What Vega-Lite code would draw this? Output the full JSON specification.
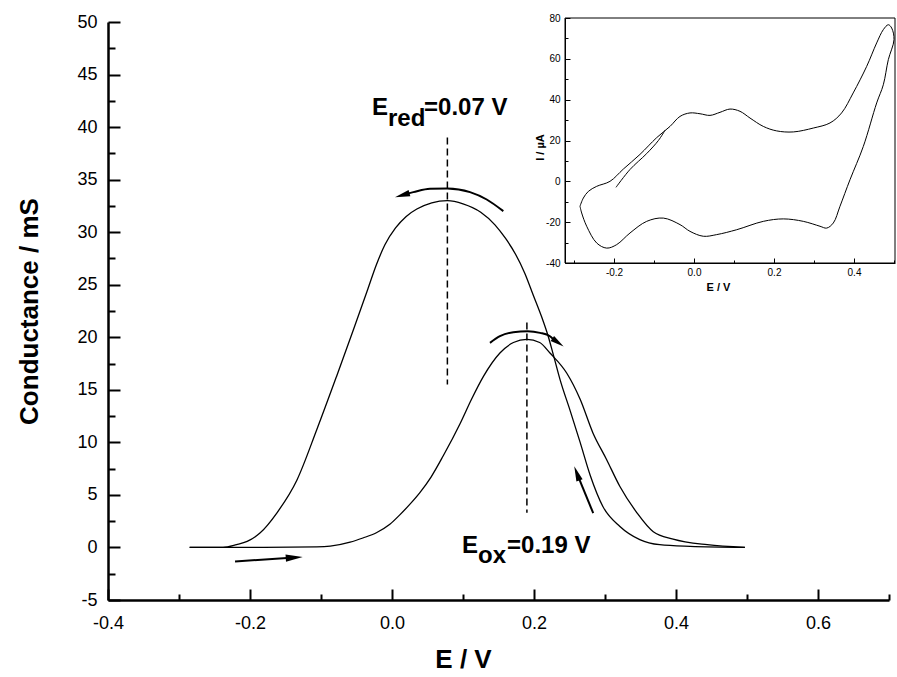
{
  "$schema": "https://vega.github.io/schema/vega-lite/v6.json",
  "width": 781,
  "height": 578,
  "autosize": {"type": "none"},
  "padding": {"left": 108, "top": 22, "right": 8, "bottom": 77},
  "background": "white",
  "config": {
    "view": {"stroke": null},
    "font": "Liberation Sans",
    "axis": {"grid": false, "domainColor": "#000", "tickColor": "#000", "labelColor": "#000", "titleColor": "#000", "labelFont": "Liberation Sans", "titleFont": "Liberation Sans"}
  },
  "datasets": {
    "cond": [
      {"scan": "red", "E": -0.285, "G": 0}, {"scan": "red", "E": -0.238, "G": 0}, {"scan": "red", "E": -0.219, "G": 0.26},
      {"scan": "red", "E": -0.204, "G": 0.57}, {"scan": "red", "E": -0.186, "G": 1.37}, {"scan": "red", "E": -0.162, "G": 3.3},
      {"scan": "red", "E": -0.134, "G": 6.4}, {"scan": "red", "E": -0.106, "G": 11.2}, {"scan": "red", "E": -0.078, "G": 16.3},
      {"scan": "red", "E": -0.055, "G": 20.6}, {"scan": "red", "E": -0.034, "G": 24.6}, {"scan": "red", "E": -0.022, "G": 26.9},
      {"scan": "red", "E": -0.01, "G": 28.8}, {"scan": "red", "E": 0.005, "G": 30.4}, {"scan": "red", "E": 0.02, "G": 31.5},
      {"scan": "red", "E": 0.035, "G": 32.2}, {"scan": "red", "E": 0.056, "G": 32.8}, {"scan": "red", "E": 0.078, "G": 33.0},
      {"scan": "red", "E": 0.1, "G": 32.7}, {"scan": "red", "E": 0.125, "G": 31.9}, {"scan": "red", "E": 0.145, "G": 30.7},
      {"scan": "red", "E": 0.16, "G": 29.4}, {"scan": "red", "E": 0.174, "G": 27.9}, {"scan": "red", "E": 0.187, "G": 26.1},
      {"scan": "red", "E": 0.199, "G": 24.0},
      {"scan": "red", "E": 0.211, "G": 21.9}, {"scan": "red", "E": 0.22, "G": 20.1}, {"scan": "red", "E": 0.227, "G": 18.4},
      {"scan": "red", "E": 0.237, "G": 15.9}, {"scan": "red", "E": 0.251, "G": 13.0}, {"scan": "red", "E": 0.265, "G": 10.0},
      {"scan": "red", "E": 0.279, "G": 6.9}, {"scan": "red", "E": 0.297, "G": 3.9}, {"scan": "red", "E": 0.321, "G": 2.0},
      {"scan": "red", "E": 0.349, "G": 0.75}, {"scan": "red", "E": 0.377, "G": 0.26}, {"scan": "red", "E": 0.42, "G": 0.1},
      {"scan": "red", "E": 0.497, "G": 0},
      {"scan": "ox", "E": -0.285, "G": 0}, {"scan": "ox", "E": -0.2, "G": 0}, {"scan": "ox", "E": -0.106, "G": 0.05},
      {"scan": "ox", "E": -0.087, "G": 0.12}, {"scan": "ox", "E": -0.059, "G": 0.5}, {"scan": "ox", "E": -0.041, "G": 0.9},
      {"scan": "ox", "E": -0.022, "G": 1.4}, {"scan": "ox", "E": -0.003, "G": 2.2}, {"scan": "ox", "E": 0.011, "G": 3.1},
      {"scan": "ox", "E": 0.025, "G": 4.1}, {"scan": "ox", "E": 0.039, "G": 5.2}, {"scan": "ox", "E": 0.055, "G": 6.7},
      {"scan": "ox", "E": 0.072, "G": 8.7}, {"scan": "ox", "E": 0.096, "G": 11.8},
      {"scan": "ox", "E": 0.112, "G": 14.1}, {"scan": "ox", "E": 0.129, "G": 16.3}, {"scan": "ox", "E": 0.152, "G": 18.5},
      {"scan": "ox", "E": 0.171, "G": 19.5}, {"scan": "ox", "E": 0.19, "G": 19.8}, {"scan": "ox", "E": 0.208, "G": 19.5},
      {"scan": "ox", "E": 0.2225, "G": 18.5}, {"scan": "ox", "E": 0.246, "G": 16.6}, {"scan": "ox", "E": 0.265, "G": 14.1},
      {"scan": "ox", "E": 0.283, "G": 10.9}, {"scan": "ox", "E": 0.302, "G": 8.4}, {"scan": "ox", "E": 0.321, "G": 5.8},
      {"scan": "ox", "E": 0.345, "G": 3.3}, {"scan": "ox", "E": 0.368, "G": 1.5}, {"scan": "ox", "E": 0.396, "G": 0.8},
      {"scan": "ox", "E": 0.444, "G": 0.26}, {"scan": "ox", "E": 0.497, "G": 0}
    ],
    "cv": [
      {"seg": "loop", "k": 1, "E": -0.285, "I": -12.2}, {"seg": "loop", "k": 2, "E": -0.2767, "I": -8.2},
      {"seg": "loop", "k": 3, "E": -0.264, "I": -4.9}, {"seg": "loop", "k": 4, "E": -0.2433, "I": -2.45},
      {"seg": "loop", "k": 5, "E": -0.21, "I": 0}, {"seg": "loop", "k": 6, "E": -0.1767, "I": 6.0},
      {"seg": "loop", "k": 7, "E": -0.135, "I": 13.2}, {"seg": "loop", "k": 8, "E": -0.0933, "I": 21.4},
      {"seg": "loop", "k": 9, "E": -0.06, "I": 26.9}, {"seg": "loop", "k": 10, "E": -0.035, "I": 31.8},
      {"seg": "loop", "k": 11, "E": -0.01, "I": 33.5}, {"seg": "loop", "k": 12, "E": 0.015, "I": 33.1},
      {"seg": "loop", "k": 13, "E": 0.04, "I": 32.3}, {"seg": "loop", "k": 14, "E": 0.065, "I": 33.8},
      {"seg": "loop", "k": 15, "E": 0.09, "I": 35.4}, {"seg": "loop", "k": 16, "E": 0.115, "I": 34.3},
      {"seg": "loop", "k": 17, "E": 0.14, "I": 31.0}, {"seg": "loop", "k": 18, "E": 0.1733, "I": 26.9},
      {"seg": "loop", "k": 19, "E": 0.2067, "I": 24.7}, {"seg": "loop", "k": 20, "E": 0.2483, "I": 24.2},
      {"seg": "loop", "k": 21, "E": 0.2983, "I": 26.1}, {"seg": "loop", "k": 22, "E": 0.34, "I": 28.6},
      {"seg": "loop", "k": 23, "E": 0.369, "I": 33.5}, {"seg": "loop", "k": 24, "E": 0.398, "I": 43.3},
      {"seg": "loop", "k": 25, "E": 0.4317, "I": 56.3}, {"seg": "loop", "k": 26, "E": 0.4567, "I": 67.8},
      {"seg": "loop", "k": 27, "E": 0.4733, "I": 74.3}, {"seg": "loop", "k": 28, "E": 0.4858, "I": 76.7},
      {"seg": "loop", "k": 29, "E": 0.4942, "I": 75.1}, {"seg": "loop", "k": 30, "E": 0.5, "I": 69.4},
      {"seg": "loop", "k": 31, "E": 0.4858, "I": 59.6}, {"seg": "loop", "k": 32, "E": 0.4733, "I": 47.3},
      {"seg": "loop", "k": 33, "E": 0.4567, "I": 38.4}, {"seg": "loop", "k": 34, "E": 0.4233, "I": 17.1},
      {"seg": "loop", "k": 35, "E": 0.39, "I": 0.8}, {"seg": "loop", "k": 36, "E": 0.365, "I": -12.2},
      {"seg": "loop", "k": 37, "E": 0.3483, "I": -20.4}, {"seg": "loop", "k": 38, "E": 0.3317, "I": -22.9},
      {"seg": "loop", "k": 39, "E": 0.315, "I": -22.0}, {"seg": "loop", "k": 40, "E": 0.2733, "I": -19.6},
      {"seg": "loop", "k": 41, "E": 0.2233, "I": -18.4}, {"seg": "loop", "k": 42, "E": 0.1733, "I": -19.6},
      {"seg": "loop", "k": 43, "E": 0.1067, "I": -23.7}, {"seg": "loop", "k": 44, "E": 0.0567, "I": -26.1},
      {"seg": "loop", "k": 45, "E": 0.0233, "I": -26.9}, {"seg": "loop", "k": 46, "E": -0.01, "I": -24.5},
      {"seg": "loop", "k": 47, "E": -0.035, "I": -21.2}, {"seg": "loop", "k": 48, "E": -0.0767, "I": -18.0},
      {"seg": "loop", "k": 49, "E": -0.1183, "I": -19.6}, {"seg": "loop", "k": 50, "E": -0.16, "I": -25.3},
      {"seg": "loop", "k": 51, "E": -0.1933, "I": -31.0}, {"seg": "loop", "k": 52, "E": -0.2183, "I": -32.7},
      {"seg": "loop", "k": 53, "E": -0.2433, "I": -30.2}, {"seg": "loop", "k": 54, "E": -0.2683, "I": -22.0},
      {"seg": "loop", "k": 55, "E": -0.2808, "I": -15.5}, {"seg": "loop", "k": 56, "E": -0.285, "I": -12.2},
      {"seg": "start", "k": 1, "E": -0.195, "I": -2.94}, {"seg": "start", "k": 2, "E": -0.16, "I": 5.8},
      {"seg": "start", "k": 3, "E": -0.1183, "I": 13.6}, {"seg": "start", "k": 4, "E": -0.089, "I": 20.0},
      {"seg": "start", "k": 5, "E": -0.0725, "I": 25.0}
    ],
    "arrows": [
      {"id": "a1", "k": 1, "E": 0.1568, "G": 32.0}, {"id": "a1", "k": 2, "E": 0.1334, "G": 33.11},
      {"id": "a1", "k": 3, "E": 0.1099, "G": 33.81}, {"id": "a1", "k": 4, "E": 0.0779, "G": 34.16},
      {"id": "a1", "k": 5, "E": 0.0535, "G": 34.13}, {"id": "a1", "k": 6, "E": 0.03, "G": 33.81},
      {"id": "a1", "k": 7, "E": 0.0206, "G": 33.66},
      {"id": "a2", "k": 1, "E": 0.138, "G": 19.47}, {"id": "a2", "k": 2, "E": 0.152, "G": 20.1},
      {"id": "a2", "k": 3, "E": 0.1708, "G": 20.48}, {"id": "a2", "k": 4, "E": 0.1911, "G": 20.57},
      {"id": "a2", "k": 5, "E": 0.2085, "G": 20.42}, {"id": "a2", "k": 6, "E": 0.2225, "G": 20.1},
      {"id": "a2", "k": 7, "E": 0.2268, "G": 19.83},
      {"id": "a3", "k": 1, "E": 0.2834, "G": 3.27}, {"id": "a3", "k": 2, "E": 0.2604, "G": 7.05},
      {"id": "a4", "k": 1, "E": -0.2211, "G": -1.333}, {"id": "a4", "k": 2, "E": -0.1377, "G": -0.962}
    ],
    "heads": [
      {"id": "a1", "E": 0.0144, "G": 33.52},
      {"id": "a2", "E": 0.2338, "G": 19.5},
      {"id": "a3", "E": 0.2604, "G": 7.05},
      {"id": "a4", "E": -0.1377, "G": -0.962}
    ],
    "peaks": [
      {"id": "red", "E": 0.078, "G1": 39.0, "G2": 15.5},
      {"id": "ox", "E": 0.19, "G1": 21.4, "G2": 3.3}
    ],
    "notes": [
      {"label": "E", "E": -0.0282, "G": 41.11},
      {"label": "red", "E": -0.0056, "G": 40.1},
      {"label": "=0.07 V", "E": 0.0451, "G": 41.11},
      {"label": "E", "E": 0.0986, "G": -0.505},
      {"label": "ox", "E": 0.1211, "G": -1.505},
      {"label": "=0.19 V", "E": 0.162, "G": -0.505}
    ]
  },
  "layer": [
    {
      "layer": [
        {
          "data": {"name": "cond"},
          "mark": {"type": "line", "interpolate": "monotone", "color": "#000", "strokeWidth": 1.3},
          "encoding": {
            "x": {"field": "E", "type": "quantitative",
              "scale": {"domain": [-0.4, 0.7], "nice": false, "zero": false},
              "axis": {"orient": "bottom", "values": [-0.4, -0.2, 0, 0.2, 0.4, 0.6], "format": ".1f",
                "labelExpr": "replace(datum.label, '\u2212', '-')",
                "tickSize": -11, "tickWidth": 2, "domainWidth": 2.5, "labelPadding": 25, "labelFontSize": 18,
                "labelFlush": false, "labelOverlap": false, "title": "E / V", "titleFontSize": 26,
                "titleFontWeight": "bold", "titleX": 355, "titleY": 46}},
            "y": {"field": "G", "type": "quantitative",
              "scale": {"domain": [-5, 50], "nice": false, "zero": false},
              "axis": {"orient": "left", "values": [-5, 0, 5, 10, 15, 20, 25, 30, 35, 40, 45, 50],
                "labelExpr": "replace(datum.label, '\u2212', '-')",
                "tickSize": -12, "tickWidth": 2, "domainWidth": 2.5, "labelPadding": 23, "labelFontSize": 18,
                "labelOverlap": false, "title": "Conductance / mS", "titleFontSize": 26,
                "titleFontWeight": "bold", "titleX": -66, "titleY": 289}},
            "detail": {"field": "scan"}
          }
        },
        {
          "data": {"name": "peaks"},
          "mark": {"type": "rule", "color": "#000", "strokeWidth": 1.5, "strokeDash": [7, 4]},
          "encoding": {
            "x": {"field": "E", "type": "quantitative"},
            "y": {"field": "G1", "type": "quantitative"},
            "y2": {"field": "G2"}
          }
        },
        {
          "data": {"name": "arrows"},
          "mark": {"type": "line", "color": "#000", "strokeWidth": 2, "interpolate": "monotone"},
          "encoding": {
            "x": {"field": "E", "type": "quantitative"},
            "y": {"field": "G", "type": "quantitative"},
            "detail": {"field": "id"},
            "order": {"field": "k"}
          }
        },
        {
          "data": {"name": "heads"},
          "transform": [{"filter": "datum.id == 'a1'"}],
          "mark": {"type": "point", "shape": "M1,0L-1,-0.44L-1,0.44Z", "filled": true, "color": "#000", "opacity": 1, "size": 225, "angle": 164.5},
          "encoding": {"x": {"field": "E", "type": "quantitative"}, "y": {"field": "G", "type": "quantitative"}}
        },
        {
          "data": {"name": "heads"},
          "transform": [{"filter": "datum.id == 'a2'"}],
          "mark": {"type": "point", "shape": "M1,0L-1,-0.44L-1,0.44Z", "filled": true, "color": "#000", "opacity": 1, "size": 190, "angle": 35},
          "encoding": {"x": {"field": "E", "type": "quantitative"}, "y": {"field": "G", "type": "quantitative"}}
        },
        {
          "data": {"name": "heads"},
          "transform": [{"filter": "datum.id == 'a3'"}],
          "mark": {"type": "point", "shape": "M1,0L-1,-0.44L-1,0.44Z", "filled": true, "color": "#000", "opacity": 1, "size": 225, "angle": 249.5},
          "encoding": {"x": {"field": "E", "type": "quantitative"}, "y": {"field": "G", "type": "quantitative"}}
        },
        {
          "data": {"name": "heads"},
          "transform": [{"filter": "datum.id == 'a4'"}],
          "mark": {"type": "point", "shape": "M1,0L-1,-0.44L-1,0.44Z", "filled": true, "color": "#000", "opacity": 1, "size": 289, "angle": 356.2},
          "encoding": {"x": {"field": "E", "type": "quantitative"}, "y": {"field": "G", "type": "quantitative"}}
        },
        {
          "data": {"name": "notes"},
          "mark": {"type": "text", "align": "left", "baseline": "alphabetic", "fontSize": 24, "fontWeight": "bold", "font": "Liberation Sans", "color": "#000"},
          "encoding": {
            "x": {"field": "E", "type": "quantitative"},
            "y": {"field": "G", "type": "quantitative"},
            "text": {"field": "label"}
          }
        }
      ]
    },
    {
      "layer": [
        {
          "data": {"name": "cv"},
          "mark": {"type": "line", "color": "#000", "strokeWidth": 1, "interpolate": "catmull-rom"},
          "encoding": {
            "x": {"field": "E", "type": "quantitative",
              "scale": {"domain": [-0.3225, 0.5025], "range": [457, 787], "nice": false, "zero": false},
              "axis": {"orient": "bottom", "offset": -337, "values": [-0.2, 0, 0.2, 0.4], "format": ".1f",
                "labelExpr": "replace(datum.label, '\u2212', '-')",
                "tickSize": -5, "tickWidth": 1, "domainWidth": 1, "labelPadding": 9, "labelFontSize": 10,
                "labelFlush": false, "labelOverlap": false, "title": "E / V", "titleFontSize": 11,
                "titleFontWeight": "bold", "titleX": 610, "titleY": 18}},
            "y": {"field": "I", "type": "quantitative",
              "scale": {"domain": [-40, 80], "range": [241, -4], "nice": false, "zero": false},
              "axis": {"orient": "left", "offset": -457, "values": [-40, -20, 0, 20, 40, 60, 80],
                "labelExpr": "replace(datum.label, '\u2212', '-')",
                "tickSize": -5, "tickWidth": 1, "domainWidth": 1, "labelPadding": 10, "labelFontSize": 10,
                "labelOverlap": false, "title": "I / µA", "titleFontSize": 11,
                "titleFontWeight": "bold", "titleX": -20, "titleY": 125}},
            "detail": {"field": "seg"},
            "order": {"field": "k"}
          }
        },
        {
          "data": {"values": [{}]},
          "mark": {"type": "rect", "fill": "transparent", "stroke": "#000", "strokeWidth": 1},
          "encoding": {
            "x": {"datum": -0.3225, "type": "quantitative"},
            "x2": {"datum": 0.5025},
            "y": {"datum": -40, "type": "quantitative"},
            "y2": {"datum": 80}
          }
        }
      ]
    },
    {
      "data": {"name": "cond"},
      "mark": {"type": "point", "opacity": 0},
      "encoding": {
        "x": {"field": "E", "type": "quantitative",
          "scale": {"domain": [-0.4, 0.7], "nice": false, "zero": false},
          "axis": {"orient": "bottom", "values": [-0.3, -0.1, 0.1, 0.3, 0.5, 0.7], "labels": false, "domain": false,
            "tickSize": -6, "tickWidth": 2, "title": null}},
        "y": {"field": "G", "type": "quantitative",
          "scale": {"domain": [-5, 50], "nice": false, "zero": false},
          "axis": {"orient": "left", "values": [-2.5, 2.5, 7.5, 12.5, 17.5, 22.5, 27.5, 32.5, 37.5, 42.5, 47.5],
            "labels": false, "domain": false, "tickSize": -7, "tickWidth": 2, "title": null}}
      }
    },
    {
      "data": {"name": "cv"},
      "mark": {"type": "point", "opacity": 0},
      "encoding": {
        "x": {"field": "E", "type": "quantitative",
          "scale": {"domain": [-0.3225, 0.5025], "range": [457, 787], "nice": false, "zero": false},
          "axis": {"orient": "bottom", "offset": -337, "values": [-0.3, -0.1, 0.1, 0.3, 0.5], "labels": false,
            "domain": false, "tickSize": -3, "tickWidth": 1, "title": null}},
        "y": {"field": "I", "type": "quantitative",
          "scale": {"domain": [-40, 80], "range": [241, -4], "nice": false, "zero": false},
          "axis": {"orient": "left", "offset": -457, "values": [-30, -10, 10, 30, 50, 70], "labels": false,
            "domain": false, "tickSize": -3, "tickWidth": 1, "title": null}}
      }
    }
  ],
  "resolve": {"scale": {"x": "independent", "y": "independent"}, "axis": {"x": "independent", "y": "independent"}}
}
